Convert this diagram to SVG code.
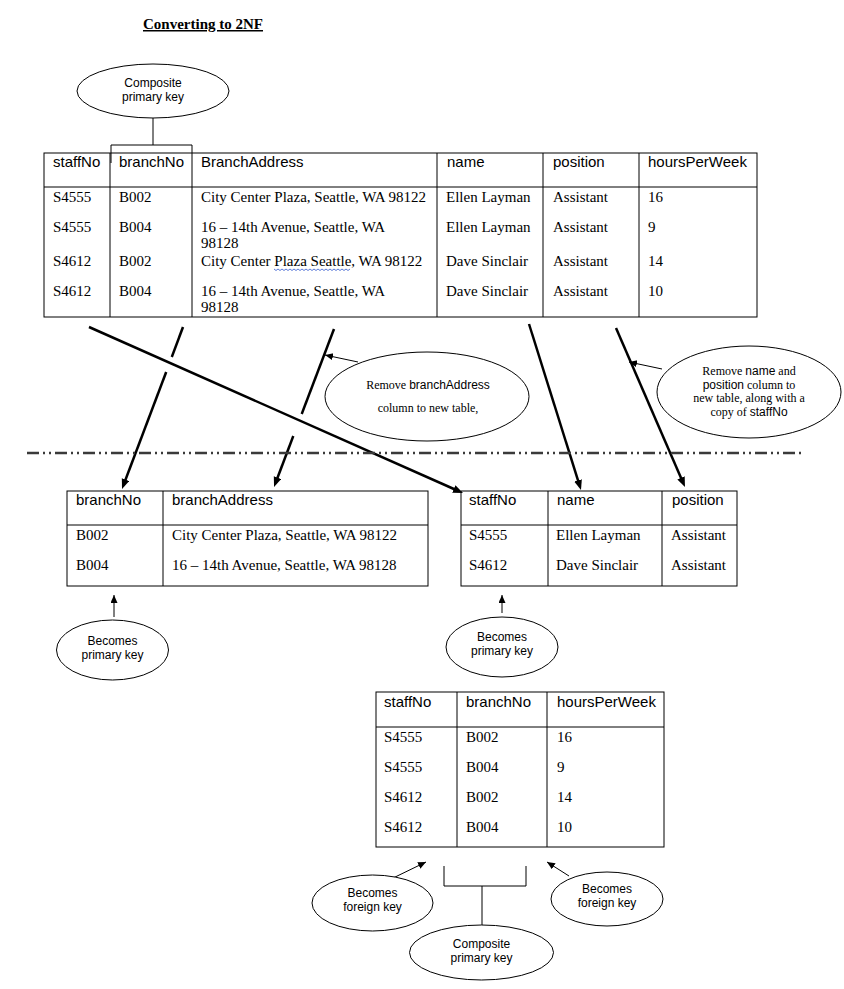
<svg xmlns="http://www.w3.org/2000/svg" width="844" height="989" viewBox="0 0 844 989">
<style>
  .bg{fill:#ffffff}
  .tb{fill:none;stroke:#000;stroke-width:1}
  .ln{fill:none;stroke:#000;stroke-width:1}
  .el{fill:#fff;stroke:#000;stroke-width:1}
  .hd{font-family:"Liberation Sans",Arial,sans-serif;font-size:15px;fill:#000}
  .dt{font-family:"Liberation Serif","Times New Roman",serif;font-size:15px;fill:#000}
  .et{font-family:"Liberation Sans",Arial,sans-serif;font-size:12px;fill:#000;text-anchor:middle}
  .es{font-family:"Liberation Serif","Times New Roman",serif;font-size:12px;fill:#000;text-anchor:middle}
  .ea{font-family:"Liberation Sans",Arial,sans-serif}
  .ttl{font-family:"Liberation Serif","Times New Roman",serif;font-size:15px;font-weight:bold;fill:#000;text-decoration:underline}
  .thick{fill:none;stroke:#000;stroke-width:2.5}
  .thin{fill:none;stroke:#000;stroke-width:1}
  .sep{fill:none;stroke:#3a3a3a;stroke-width:2.5;stroke-dasharray:12 4 2 4 2 4}
</style>
<defs>
  <marker id="big" markerUnits="userSpaceOnUse" markerWidth="11" markerHeight="9" refX="5" refY="4" orient="auto">
    <path d="M0,0 L10,4 L0,8 z" fill="#000"/>
  </marker>
  <marker id="sm" markerUnits="userSpaceOnUse" markerWidth="9" markerHeight="8" refX="8" refY="3.5" orient="auto">
    <path d="M0,0 L8,3.5 L0,7 z" fill="#000"/>
  </marker>
</defs>
<rect class="bg" x="0" y="0" width="844" height="989"/>

<text class="ttl" x="143" y="29">Converting to 2NF</text>

<g id="note-composite-top">
  <ellipse class="el" cx="153" cy="91" rx="76" ry="27"/>
  <text class="et" x="153" y="87">Composite</text>
  <text class="et" x="153" y="101">primary key</text>
  <path class="ln" d="M153,118 L153,145 M111,163 L111,145 L192,145 L192,153"/>
</g>

<g id="table-main">
  <rect class="tb" x="44" y="153" width="713" height="164"/>
  <path class="tb" d="M44,187 H757 M110,153 V317 M192,153 V317 M437,153 V317 M543,153 V317 M639,153 V317"/>
  <text class="hd" x="53" y="167">staffNo</text>
  <text class="hd" x="119" y="167">branchNo</text>
  <text class="hd" x="201" y="167">BranchAddress</text>
  <text class="hd" x="447" y="167">name</text>
  <text class="hd" x="553" y="167">position</text>
  <text class="hd" x="648" y="167">hoursPerWeek</text>

  <text class="dt" x="53" y="202">S4555</text>
  <text class="dt" x="119" y="202">B002</text>
  <text class="dt" x="201" y="202">City Center Plaza, Seattle, WA 98122</text>
  <text class="dt" x="446" y="202">Ellen Layman</text>
  <text class="dt" x="553" y="202">Assistant</text>
  <text class="dt" x="648" y="202">16</text>

  <text class="dt" x="53" y="232">S4555</text>
  <text class="dt" x="119" y="232">B004</text>
  <text class="dt" x="201" y="232">16 – 14th Avenue, Seattle, WA</text>
  <text class="dt" x="201" y="248">98128</text>
  <text class="dt" x="446" y="232">Ellen Layman</text>
  <text class="dt" x="553" y="232">Assistant</text>
  <text class="dt" x="648" y="232">9</text>

  <text class="dt" x="53" y="266">S4612</text>
  <text class="dt" x="119" y="266">B002</text>
  <text class="dt" x="201" y="266">City Center Plaza Seattle, WA 98122</text>
  <text class="dt" x="446" y="266">Dave Sinclair</text>
  <text class="dt" x="553" y="266">Assistant</text>
  <text class="dt" x="648" y="266">14</text>
  <path d="M274,269 l2,1.5 l2,-1.5 l2,1.5 l2,-1.5 l2,1.5 l2,-1.5 l2,1.5 l2,-1.5 l2,1.5 l2,-1.5 l2,1.5 l2,-1.5 l2,1.5 l2,-1.5 l2,1.5 l2,-1.5 l2,1.5 l2,-1.5 l2,1.5 l2,-1.5 l2,1.5 l2,-1.5 l2,1.5 l2,-1.5 l2,1.5 l2,-1.5 l2,1.5 l2,-1.5 l2,1.5 l2,-1.5 l2,1.5 l2,-1.5 l2,1.5 l2,-1.5 l2,1.5 l2,-1.5 l2,1.5 l2,-1.5" fill="none" stroke="#4a6cd4" stroke-width="0.9"/>

  <text class="dt" x="53" y="296">S4612</text>
  <text class="dt" x="119" y="296">B004</text>
  <text class="dt" x="201" y="296">16 – 14th Avenue, Seattle, WA</text>
  <text class="dt" x="201" y="312">98128</text>
  <text class="dt" x="446" y="296">Dave Sinclair</text>
  <text class="dt" x="553" y="296">Assistant</text>
  <text class="dt" x="648" y="296">10</text>
</g>

<g id="connectors">
  <line class="thick" x1="89" y1="327" x2="458.4" y2="491" marker-end="url(#big)"/>
  <line class="thick" x1="183" y1="327" x2="171.8" y2="357"/>
  <line class="thick" x1="166.2" y1="372" x2="123.8" y2="484.3" marker-end="url(#big)"/>
  <line class="thick" x1="334" y1="329" x2="301.7" y2="414"/>
  <line class="thick" x1="293.3" y1="436" x2="275.8" y2="482.3" marker-end="url(#big)"/>
  <line class="thick" x1="529" y1="324" x2="579.5" y2="485.2" marker-end="url(#big)"/>
  <line class="thick" x1="616" y1="328" x2="683" y2="482.4" marker-end="url(#big)"/>
  <line class="thin" x1="358" y1="362" x2="325" y2="355" marker-end="url(#sm)"/>
  <line class="thin" x1="662" y1="369" x2="629" y2="362" marker-end="url(#sm)"/>
  <line class="thin" x1="114" y1="617" x2="114" y2="595" marker-end="url(#sm)"/>
  <line class="thin" x1="502" y1="613" x2="502" y2="595" marker-end="url(#sm)"/>
  <line class="thin" x1="389" y1="880" x2="426" y2="862" marker-end="url(#sm)"/>
  <line class="thin" x1="569" y1="876" x2="547" y2="862" marker-end="url(#sm)"/>
</g>

<line class="sep" x1="27" y1="453" x2="802" y2="453"/>

<g id="note-remove-address">
  <ellipse class="el" cx="427" cy="396.5" rx="102" ry="44.5"/>
  <text class="es" x="428" y="389">Remove <tspan class="ea">branchAddress</tspan></text>
  <text class="es" x="428" y="412">column to new table,</text>
</g>

<g id="note-remove-name">
  <ellipse class="el" cx="749" cy="392" rx="92" ry="46"/>
  <text class="es" x="749" y="375">Remove <tspan class="ea">name</tspan> and</text>
  <text class="es" x="749" y="389"><tspan class="ea">position</tspan> column to</text>
  <text class="es" x="749" y="402">new table, along with a</text>
  <text class="es" x="749" y="416">copy of <tspan class="ea">staffNo</tspan></text>
</g>

<g id="table-branch">
  <rect class="tb" x="67" y="491" width="361" height="95"/>
  <path class="tb" d="M67,525 H428 M163,491 V586"/>
  <text class="hd" x="76" y="505">branchNo</text>
  <text class="hd" x="172" y="505">branchAddress</text>
  <text class="dt" x="76" y="540">B002</text>
  <text class="dt" x="172" y="540">City Center Plaza, Seattle, WA 98122</text>
  <text class="dt" x="76" y="570">B004</text>
  <text class="dt" x="172" y="570">16 – 14th Avenue, Seattle, WA 98128</text>
</g>

<g id="table-staff">
  <rect class="tb" x="461" y="491" width="276" height="95"/>
  <path class="tb" d="M461,525 H737 M548,491 V586 M662,491 V586"/>
  <text class="hd" x="469" y="505">staffNo</text>
  <text class="hd" x="557" y="505">name</text>
  <text class="hd" x="672" y="505">position</text>
  <text class="dt" x="469" y="540">S4555</text>
  <text class="dt" x="556" y="540">Ellen Layman</text>
  <text class="dt" x="671" y="540">Assistant</text>
  <text class="dt" x="469" y="570">S4612</text>
  <text class="dt" x="556" y="570">Dave Sinclair</text>
  <text class="dt" x="671" y="570">Assistant</text>
</g>

<g id="note-pk-branch">
  <ellipse class="el" cx="112.5" cy="650" rx="56" ry="30"/>
  <text class="et" x="112.5" y="645">Becomes</text>
  <text class="et" x="112.5" y="659">primary key</text>
</g>

<g id="note-pk-staff">
  <ellipse class="el" cx="502" cy="647" rx="56" ry="30"/>
  <text class="et" x="502" y="641">Becomes</text>
  <text class="et" x="502" y="655">primary key</text>
</g>

<g id="table-staffbranch">
  <rect class="tb" x="376" y="692" width="288" height="155"/>
  <path class="tb" d="M376,727 H664 M457,692 V847 M547,692 V847"/>
  <text class="hd" x="384" y="707">staffNo</text>
  <text class="hd" x="466" y="707">branchNo</text>
  <text class="hd" x="557" y="707">hoursPerWeek</text>
  <text class="dt" x="384" y="742">S4555</text>
  <text class="dt" x="466" y="742">B002</text>
  <text class="dt" x="557" y="742">16</text>
  <text class="dt" x="384" y="772">S4555</text>
  <text class="dt" x="466" y="772">B004</text>
  <text class="dt" x="557" y="772">9</text>
  <text class="dt" x="384" y="802">S4612</text>
  <text class="dt" x="466" y="802">B002</text>
  <text class="dt" x="557" y="802">14</text>
  <text class="dt" x="384" y="832">S4612</text>
  <text class="dt" x="466" y="832">B004</text>
  <text class="dt" x="557" y="832">10</text>
</g>

<g id="note-composite-bottom">
  <path class="ln" d="M444,866 V886 H526 V866 M482,886 V926"/>
  <ellipse class="el" cx="481.5" cy="952.5" rx="72" ry="27.5"/>
  <text class="et" x="481.5" y="948">Composite</text>
  <text class="et" x="481.5" y="962">primary key</text>
</g>

<g id="note-fk-left">
  <ellipse class="el" cx="372.5" cy="903" rx="60.5" ry="28"/>
  <text class="et" x="372.5" y="897">Becomes</text>
  <text class="et" x="372.5" y="911">foreign key</text>
</g>

<g id="note-fk-right">
  <ellipse class="el" cx="607" cy="899" rx="56" ry="27"/>
  <text class="et" x="607" y="893">Becomes</text>
  <text class="et" x="607" y="907">foreign key</text>
</g>
</svg>
